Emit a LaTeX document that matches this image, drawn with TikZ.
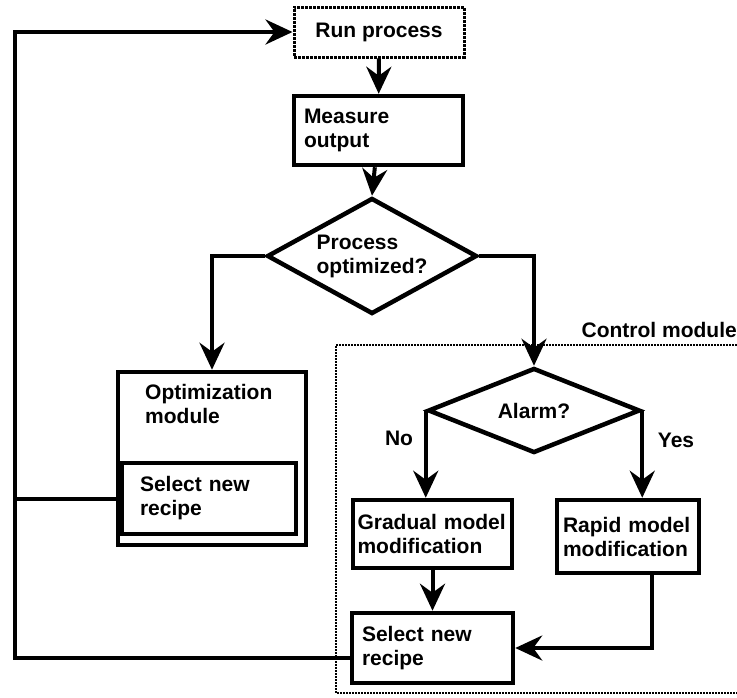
\documentclass[tikz,border=0pt]{standalone}
\usepackage{fontspec}
\setmainfont{Liberation Sans}
\usetikzlibrary{shapes.geometric,arrows.meta}
\begin{document}
\begin{tikzpicture}[x=1pt,y=-1pt,
  font=\fontsize{21}{24}\selectfont\bfseries,
  box/.style={draw,line width=4.5pt,inner ysep=0pt,align=left},
  dia/.style={draw,diamond,line width=4.5pt,inner sep=0pt,align=left},
  conn/.style={line width=4pt},
  arr/.style={conn,-{Stealth[length=27pt,width=25pt,inset=9pt]}},
  lbl/.style={inner sep=0pt}]
\useasboundingbox (0,0) rectangle (737,697);
% nodes
\node[box,line width=3pt,densely dotted,minimum width=170pt,minimum height=50pt] (run) at (379,32) {Run process};
\node[box,minimum width=169pt,minimum height=69pt,text width=149pt,inner xsep=10pt] (meas) at (378.5,130.5) {Measure\\output};
\node[dia,minimum width=210pt,minimum height=116pt,aspect=1.81] (proc) at (372,256) {Process\\optimized?};
\node[draw,line width=4.5pt,minimum width=188pt,minimum height=173pt] (opt) at (212,458.5) {};
\node[lbl,anchor=north west,align=left] (optlbl) at (145,384) {Optimization\\module};
\node[box,minimum width=174pt,minimum height=71pt,text width=138pt,inner xsep=18pt] (sel1) at (209,498.5) {Select new\\recipe};
% control module
\coordinate (c1) at (737,345);
\coordinate (c2) at (336,345);
\coordinate (c3) at (336,693);
\coordinate (c4) at (737,693);
\draw[line width=2pt,densely dotted] (c1) -- (c2) -- (c3) -- (c4);
\node[lbl,anchor=base east] (ctrl) at (737,337) {Control module};
\node[dia,minimum width=212pt,minimum height=85pt,aspect=2.4] (alarm) at (534,410.5) {Alarm?};
\node[box,minimum width=159pt,minimum height=68pt,text width=150pt,inner xsep=4.5pt] (grad) at (432.5,534) {Gradual model\\modification};
\node[box,minimum width=142pt,minimum height=73pt,text width=130pt,inner xsep=6pt] (rapid) at (628,536.5) {Rapid model\\modification};
\node[box,minimum width=161pt,minimum height=70pt,text width=141pt,inner xsep=10pt] (sel2) at (432.5,648) {Select new\\recipe};
\node[lbl,anchor=base] (no) at (399,445) {No};
\node[lbl,anchor=base] (yes) at (676,447) {Yes};
% feedback corners
\coordinate (fbtop) at (15,32);
\coordinate (fbbot) at (15,658);
% connectors
\draw[arr] (run) -- (meas);
\draw[arr] (meas) -- (proc.north);
\draw[arr] (proc.west) -| (opt.north);
\draw[arr] (proc.east) -| (alarm.north);
\draw[arr] (alarm.west) -- (alarm.west |- grad.north);
\draw[arr] (alarm.east) -- (alarm.east |- rapid.north);
\draw[arr] (grad) -- (sel2);
\draw[arr] ([xshift=24pt]rapid.south) |- (sel2.east);
\draw[arr] ([yshift=-10pt]sel2.west) -- (fbbot) -- (fbtop) -- (run.west);
\draw[conn] (sel1.west) -- (sel1.west -| fbtop);
\end{tikzpicture}
\end{document}
